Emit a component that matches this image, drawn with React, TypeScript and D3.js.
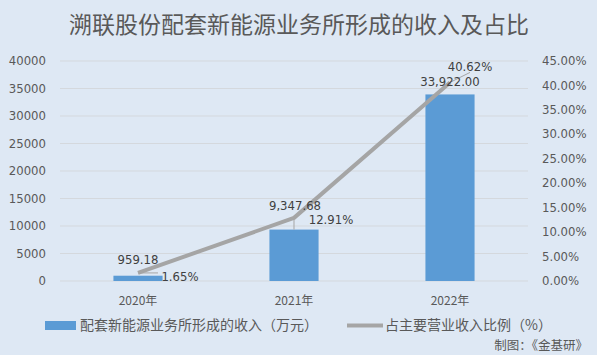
import * as d3 from "d3";

// ---------------------------------------------------------------------------
// Data
// ---------------------------------------------------------------------------

const YEARS = ["2020年", "2021年", "2022年"];
const REVENUE = [959.18, 9347.68, 33922.0]; // 万元
const SHARE = [1.65, 12.91, 40.62]; // %
const REV_TICKS = [0, 5000, 10000, 15000, 20000, 25000, 30000, 35000, 40000];
const PCT_TICKS = [0, 5, 10, 15, 20, 25, 30, 35, 40, 45];

const TITLE = "溯联股份配套新能源业务所形成的收入及占比";
const LEGEND_BAR = "配套新能源业务所形成的收入（万元）";
const LEGEND_LINE = "占主要营业收入比例（%）";
const SOURCE = "制图：《金基研》";

// ---------------------------------------------------------------------------
// Style
// ---------------------------------------------------------------------------

const W = 597;
const H = 355;
const BG = "#dee8f4";
const BAR = "#5b9bd5";
const LINE = "#a5a5a5";
const GRID = "#d4d8dd";
const TEXT = "#595959";
const LABEL = "#404040";
const NUM_FONT = "'DejaVu Sans', Verdana, sans-serif";
const CJK_FONT = "'Noto Sans CJK SC', 'Noto Sans', sans-serif";

const PLOT = { left: 60, right: 528, top: 61, bottom: 281 };

// label offsets relative to each point (dx, dy) for the two label sets
const BAR_LABEL_OFF = [
  [0, -12],
  [1, -20],
  [0, -8],
];
const PCT_LABEL_OFF = [
  [42, 4],
  [37, 2],
  [20, -16],
];

export default function App() {
  const x = d3
    .scaleBand<string>()
    .domain(YEARS)
    .range([PLOT.left, PLOT.right])
    .paddingInner(0)
    .paddingOuter(0);
  const barW = x.bandwidth() * 0.315;
  const yL = d3.scaleLinear().domain([0, 40000]).range([PLOT.bottom, PLOT.top]);
  const yR = d3.scaleLinear().domain([0, 45]).range([PLOT.bottom, PLOT.top]);

  const cx = (i: number) => (x(YEARS[i]) ?? 0) + x.bandwidth() / 2;
  const line = d3
    .line<number>()
    .x((_, i) => cx(i))
    .y((d) => yR(d));

  const fmtRev = d3.format(",.2f");

  return (
    <svg
      width={W}
      height={H}
      style={{ position: "absolute", left: 0, top: 0, display: "block" }}
    >
      <rect x={0} y={0} width={W} height={H} fill={BG} />

      {/* title */}
      <text
        x={299}
        y={33}
        textAnchor="middle"
        fontSize={23}
        fontFamily={CJK_FONT}
        fill={TEXT}
      >
        {TITLE}
      </text>

      {/* gridlines */}
      {REV_TICKS.map((t) => (
        <line
          key={t}
          x1={PLOT.left}
          x2={PLOT.right}
          y1={yL(t)}
          y2={yL(t)}
          stroke={GRID}
          strokeWidth={1}
        />
      ))}

      {/* left axis */}
      {REV_TICKS.map((t) => (
        <text
          key={`l${t}`}
          x={46}
          y={yL(t)}
          dy="0.35em"
          textAnchor="end"
          fontSize={11.7}
          fontFamily={NUM_FONT}
          fill={TEXT}
        >
          {t}
        </text>
      ))}

      {/* right axis */}
      {PCT_TICKS.map((t) => (
        <text
          key={`r${t}`}
          x={542}
          y={yR(t)}
          dy="0.35em"
          textAnchor="start"
          fontSize={11.7}
          fontFamily={NUM_FONT}
          fill={TEXT}
        >
          {t.toFixed(2)}%
        </text>
      ))}

      {/* bars */}
      {REVENUE.map((v, i) => (
        <rect
          key={i}
          x={cx(i) - barW / 2}
          y={yL(v)}
          width={barW}
          height={PLOT.bottom - yL(v)}
          fill={BAR}
        />
      ))}

      {/* x labels */}
      {YEARS.map((yr, i) => (
        <text
          key={yr}
          x={cx(i)}
          y={305}
          textAnchor="middle"
          fontSize={12}
          fontFamily={CJK_FONT}
          fill={TEXT}
        >
          {yr}
        </text>
      ))}

      {/* line */}
      <path
        d={line(SHARE) ?? ""}
        fill="none"
        stroke={LINE}
        strokeWidth={4}
        strokeLinejoin="round"
      />

      {/* leader lines */}
      <line x1={cx(0)} y1={yR(SHARE[0])} x2={cx(0) + 20} y2={yR(SHARE[0])} stroke={LINE} strokeWidth={1} />
      <line x1={cx(1)} y1={yR(SHARE[1])} x2={cx(1)} y2={yL(REVENUE[1])} stroke={LINE} strokeWidth={1} />
      <line x1={cx(2)} y1={yR(SHARE[2])} x2={cx(2) + 20} y2={yR(SHARE[2]) - 10} stroke={LINE} strokeWidth={1} />

      {/* bar value labels */}
      {REVENUE.map((v, i) => (
        <text
          key={`bv${i}`}
          x={cx(i) + BAR_LABEL_OFF[i][0]}
          y={yL(v) + BAR_LABEL_OFF[i][1]}
          textAnchor="middle"
          fontSize={11.7}
          fontFamily={NUM_FONT}
          fill={LABEL}
        >
          {fmtRev(v)}
        </text>
      ))}

      {/* percent labels */}
      {SHARE.map((v, i) => (
        <text
          key={`pv${i}`}
          x={cx(i) + PCT_LABEL_OFF[i][0]}
          y={yR(v) + PCT_LABEL_OFF[i][1]}
          dy="0.35em"
          textAnchor="middle"
          fontSize={11.7}
          fontFamily={NUM_FONT}
          fill={LABEL}
        >
          {v.toFixed(2)}%
        </text>
      ))}

      {/* legend */}
      <rect x={45} y={321} width={31} height={9} fill={BAR} />
      <text x={80} y={330} fontSize={14} fontFamily={CJK_FONT} fill={TEXT}>
        {LEGEND_BAR}
      </text>
      <line x1={347} x2={383} y1={325.5} y2={325.5} stroke={LINE} strokeWidth={4} />
      <text x={385} y={330} fontSize={14} fontFamily={CJK_FONT} fill={TEXT}>
        {LEGEND_LINE}
      </text>

      {/* source */}
      <text
        x={588}
        y={350}
        textAnchor="end"
        fontSize={12.5}
        fontFamily={CJK_FONT}
        fill={TEXT}
      >
        {SOURCE}
      </text>
    </svg>
  );
}
